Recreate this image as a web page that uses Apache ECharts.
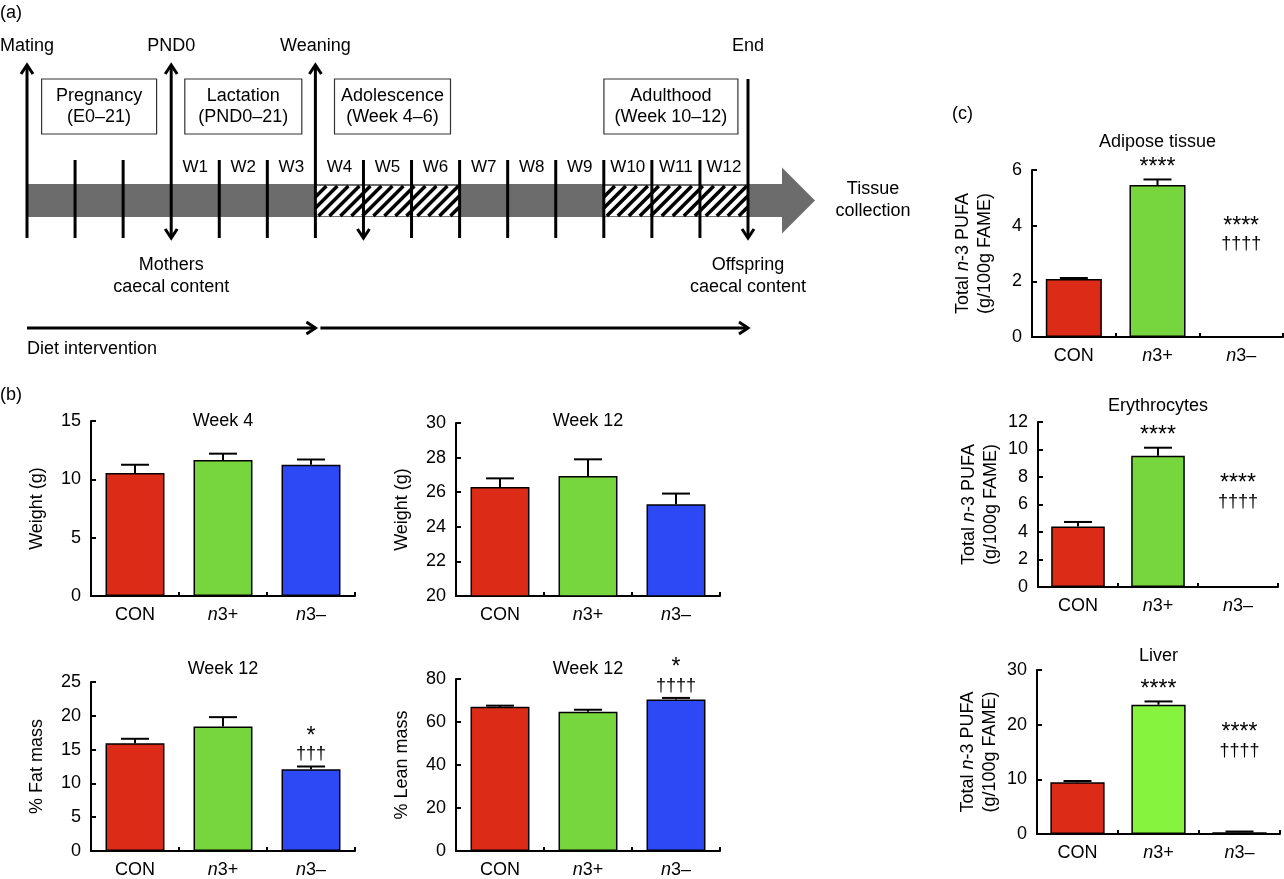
<!DOCTYPE html>
<html>
<head>
<meta charset="utf-8">
<script src="https://cdn.jsdelivr.net/npm/echarts@6/dist/echarts.min.js"></script>
<style>
  html, body { margin: 0; padding: 0; background: #fff; }
  #chart { width: 1284px; height: 879px; }
</style>
</head>
<body>
<div id="chart"></div>
<script>
const FONT = '"Liberation Sans", Arial, Helvetica, sans-serif';
const font = (size, style) => (style ? style + ' ' : '') + size + 'px ' + FONT;

// (a) study timeline, in weeks from birth (PND0 = week 0)
const timelineSpan = [-3, 12];
const eventWeeks = [-3, 0, 3, 12];
const eventLabels = ['Mating', 'PND0', 'Weaning', 'End'];
const eventArrows = ['up', 'both', 'up', 'down'];
const tickWeeks = [-2, -1, 1, 2, 5, 6, 7, 8, 9, 10, 11];
const arrowTickWeeks = [4];
const weekLabels = ['W1', 'W2', 'W3', 'W4', 'W5', 'W6', 'W7', 'W8', 'W9', 'W10', 'W11', 'W12'];
const stageNames = ['Pregnancy\n(E0–21)', 'Lactation\n(PND0–21)', 'Adolescence\n(Week 4–6)', 'Adulthood\n(Week 10–12)'];
const stageSpans = [[-3, 0], [0, 3], [3, 6], [9, 12]];
const hatchSpans = [[3, 6], [9, 12]];
const sampleWeeks = [0, 12];
const sampleLabels = ['Mothers\ncaecal content', 'Offspring\ncaecal content'];
const dietSpans = [[-3, 3], [3, 12]];

// (b) body weight / composition, mean and SEM
const groups = ['CON', 'n3+', 'n3–'];
const wk4Weight = [10.55, 11.65, 11.25];
const wk4WeightSem = [0.7, 0.55, 0.45];
const wk12Weight = [26.3, 26.93, 25.3];
const wk12WeightSem = [0.5, 0.97, 0.62];
const fatMass = [15.95, 18.4, 12.1];
const fatMassSem = [0.65, 1.4, 0.4];
const fatMarks = ['', '', '*\n†††'];
const leanMass = [67.1, 64.8, 70.5];
const leanMassSem = [0.5, 0.9, 0.7];
const leanMarks = ['', '', '*\n††††'];

// (c) total n-3 PUFA (g/100 g FAME)
const adipose = [2.08, 5.46, 0];
const adiposeSem = [0.04, 0.2, 0];
const erythro = [4.4, 9.55, 0];
const erythroSem = [0.33, 0.58, 0];
const liver = [9.45, 23.65, 0.3];
const liverSem = [0.25, 0.6, 0.15];
const pufaMarks = ['', '****', '****\n††††'];
const adiposeMarkFloor = [0, 0, 2.9];
const erythroMarkFloor = [0, 0, 5.3];
const liverMarkFloor = [0, 0, 13];

const barColors = ['#dc2c17', '#77d53e', '#2d49f5'];
const liverColors = ['#dc2c17', '#86f33f', '#2d49f5'];

// timeline vertical layout (px)
const TL = {
  labelY: 46, boxTop: 79, boxH: 55, weekY: 167, barTop: 184, barH: 33,
  hatchTop: 186, hatchH: 30, tickTop: 160, lineBottom: 238, arrowTop: 65,
  endTop: 79, sampleY: 254, dietY: 328, dietTextY: 349
};
const stageBoxWidths = [115, 117, 116, 134];
const stageBoxShift = [0, 0, 5, -5];

const black = '#000';
const ln = (x1, y1, x2, y2, w) => ({ type: 'line', shape: { x1, y1, x2, y2 }, style: { stroke: black, lineWidth: w || 3 } });
const chevUp = (x, y) => ({ type: 'polyline', shape: { points: [[x - 6, y + 9], [x, y], [x + 6, y + 9]] }, style: { stroke: black, fill: null, lineWidth: 3 } });
const chevDown = (x, y) => ({ type: 'polyline', shape: { points: [[x - 6, y - 9], [x, y], [x + 6, y - 9]] }, style: { stroke: black, fill: null, lineWidth: 3 } });
const chevRight = (x, y) => ({ type: 'polyline', shape: { points: [[x - 9, y - 6], [x, y], [x - 9, y + 6]] }, style: { stroke: black, fill: null, lineWidth: 3 } });
const txt = (text, x, y, size, align, extra) => ({
  type: 'text',
  style: Object.assign({ text, x, y, font: font(size), fill: black, align: align || 'center', verticalAlign: 'middle' }, extra || {})
});

function xOf(api, w) { return api.coord([w, 0])[0]; }

const timelineSeries = [
  { // grey shaft and arrow head
    data: [timelineSpan],
    renderItem: (p, api) => {
      const xs = xOf(api, api.value(0)), xe = xOf(api, api.value(1));
      const mid = TL.barTop + TL.barH / 2;
      return { type: 'group', children: [
        { type: 'rect', shape: { x: xs, y: TL.barTop, width: xe + 34 - xs, height: TL.barH }, style: { fill: '#6c6c6c' } },
        { type: 'polygon', shape: { points: [[xe + 34, mid - 33], [xe + 67, mid], [xe + 34, mid + 33]] }, style: { fill: '#6c6c6c' } },
        txt('Tissue\ncollection', xe + 125, mid, 18, 'center', { lineHeight: 22 })
      ] };
    }
  },
  { // hatched adolescence / adulthood windows
    data: hatchSpans,
    renderItem: (p, api) => {
      const x0 = xOf(api, api.value(0)), x1 = xOf(api, api.value(1));
      const y0 = TL.hatchTop, y1 = TL.hatchTop + TL.hatchH;
      const children = [{ type: 'rect', shape: { x: x0, y: y0, width: x1 - x0, height: y1 - y0 }, style: { fill: '#fff' } }];
      for (let c = x0 + y0; c <= x1 + y1; c += 11) {
        const xa = Math.max(x0, c - y1), xb = Math.min(x1, c - y0);
        if (xb > xa) children.push(ln(xa, c - xa, xb, c - xb, 3.5));
      }
      return { type: 'group', children };
    }
  },
  { // plain week ticks
    data: tickWeeks.map(w => [w]),
    renderItem: (p, api) => {
      const x = xOf(api, api.value(0));
      return ln(x, TL.tickTop, x, TL.lineBottom);
    }
  },
  { // tick with sampling arrow
    data: arrowTickWeeks.map(w => [w]),
    renderItem: (p, api) => {
      const x = xOf(api, api.value(0));
      return { type: 'group', children: [ln(x, TL.tickTop, x, TL.lineBottom), chevDown(x, TL.lineBottom)] };
    }
  },
  { // main events
    data: eventWeeks.map(w => [w]),
    renderItem: (p, api) => {
      const i = p.dataIndex;
      const x = xOf(api, api.value(0));
      const kind = eventArrows[i];
      const top = kind === 'down' ? TL.endTop : TL.arrowTop;
      const children = [ln(x, top, x, TL.lineBottom), txt(eventLabels[i], x, TL.labelY, 18)];
      if (kind === 'up' || kind === 'both') children.push(chevUp(x, top));
      if (kind === 'down' || kind === 'both') children.push(chevDown(x, TL.lineBottom));
      return { type: 'group', children };
    }
  },
  { // W1..W12
    data: weekLabels.map((w, i) => [i + 0.5]),
    renderItem: (p, api) => txt(weekLabels[p.dataIndex], xOf(api, api.value(0)), TL.weekY, 17)
  },
  { // stage boxes
    data: stageSpans,
    renderItem: (p, api) => {
      const i = p.dataIndex;
      const cx = (xOf(api, api.value(0)) + xOf(api, api.value(1))) / 2 + stageBoxShift[i];
      const w = stageBoxWidths[i];
      return { type: 'group', children: [
        { type: 'rect', shape: { x: cx - w / 2, y: TL.boxTop, width: w, height: TL.boxH }, style: { fill: '#fff', stroke: '#333', lineWidth: 1.2 } },
        txt(stageNames[i], cx, TL.boxTop + TL.boxH / 2, 18, 'center', { lineHeight: 21 })
      ] };
    }
  },
  { // caecal content sampling
    data: sampleWeeks.map(w => [w]),
    renderItem: (p, api) => txt(sampleLabels[p.dataIndex], xOf(api, api.value(0)), TL.sampleY, 18, 'center', { verticalAlign: 'top', lineHeight: 22 })
  },
  { // diet intervention arrows
    data: dietSpans,
    renderItem: (p, api) => {
      const i = p.dataIndex;
      const xs = xOf(api, api.value(0)) + (i > 0 ? 5 : 0), xe = xOf(api, api.value(1));
      const children = [ln(xs, TL.dietY, xe, TL.dietY), chevRight(xe, TL.dietY)];
      if (i === 0) children.push(txt('Diet intervention', xs, TL.dietTextY, 18, 'left'));
      return { type: 'group', children };
    }
  }
].map(s => Object.assign({ type: 'custom', coordinateSystem: 'cartesian2d', xAxisIndex: 0, yAxisIndex: 0, clip: false, silent: true, animation: false }, s));

const pufaName = '{a|Total }{i|n}{a|-3 PUFA}\n{a|(g/100g FAME)}';

const panels = [
  { grid: { left: 91, top: 421, width: 264, height: 175 }, values: wk4Weight, sem: wk4WeightSem, min: 0, max: 15, interval: 5,
    name: '{a|Weight (g)}', nameGap: 43, title: 'Week 4', titleY: 421, colors: barColors },
  { grid: { left: 456, top: 423, width: 264, height: 173 }, values: wk12Weight, sem: wk12WeightSem, min: 20, max: 30, interval: 2,
    name: '{a|Weight (g)}', nameGap: 43, title: 'Week 12', titleY: 421, colors: barColors },
  { grid: { left: 91, top: 682, width: 264, height: 169 }, values: fatMass, sem: fatMassSem, marks: fatMarks, min: 0, max: 25, interval: 5,
    name: '{a|% Fat mass}', nameGap: 43, title: 'Week 12', titleY: 669, colors: barColors },
  { grid: { left: 456, top: 679, width: 264, height: 172 }, values: leanMass, sem: leanMassSem, marks: leanMarks, min: 0, max: 80, interval: 20,
    name: '{a|% Lean mass}', nameGap: 43, title: 'Week 12', titleY: 669, colors: barColors },
  { grid: { left: 1032, top: 170, width: 251, height: 167 }, values: adipose, sem: adiposeSem, marks: pufaMarks, floors: adiposeMarkFloor,
    min: 0, max: 6, interval: 2, name: pufaName, nameGap: 36, title: 'Adipose tissue', titleY: 142, colors: barColors },
  { grid: { left: 1038, top: 422, width: 240, height: 165 }, values: erythro, sem: erythroSem, marks: pufaMarks, floors: erythroMarkFloor,
    min: 0, max: 12, interval: 2, name: pufaName, nameGap: 36, title: 'Erythrocytes', titleY: 406, colors: barColors },
  { grid: { left: 1037, top: 670, width: 243, height: 164 }, values: liver, sem: liverSem, marks: pufaMarks, floors: liverMarkFloor,
    min: 0, max: 30, interval: 10, name: pufaName, nameGap: 36, title: 'Liver', titleY: 656, colors: liverColors }
];

const richText = {
  a: { fontFamily: FONT, fontSize: 18, color: black },
  i: { fontFamily: FONT, fontSize: 18, fontStyle: 'italic', color: black }
};
const markRich = {
  s: { fontFamily: FONT, fontSize: 23, lineHeight: 18, color: black },
  d: { fontFamily: FONT, fontSize: 18, lineHeight: 18, color: black }
};
const axisLineStyle = { color: black, width: 2 };

function errorRenderer(pn) {
  return function (p, api) {
    const i = p.dataIndex;
    const x = api.value(0), m = api.value(1);
    const s = pn.sem[i];
    const base = api.coord([x, m]);
    const top = api.coord([x, m + s]);
    const children = [];
    if (s > 0) {
      children.push(ln(base[0], base[1], top[0], top[1], 2));
      children.push(ln(top[0] - 14, top[1], top[0] + 14, top[1], 2));
    }
    const mark = pn.marks ? pn.marks[i] : '';
    if (mark) {
      const anchor = Math.max(m + s, pn.floors ? pn.floors[i] : 0);
      const a = api.coord([x, anchor]);
      const rich = mark.split('\n').map(l => (l.charAt(0) === '*' ? '{s|' : '{d|') + l + '}').join('\n');
      children.push(txt(rich, a[0], a[1] - 3, 18, 'center', { verticalAlign: 'bottom', lineHeight: 18, rich: markRich }));
    }
    return { type: 'group', children };
  };
}

const grids = [{ left: 27, width: 721, top: 0, height: 400, outerBoundsMode: 'none' }];
const xAxes = [{ gridIndex: 0, type: 'value', min: timelineSpan[0], max: timelineSpan[1], show: false }];
const yAxes = [{ gridIndex: 0, type: 'value', min: 0, max: 1, show: false }];
const series = timelineSeries.slice();
const graphics = [
  txt('(a)', 0, 13, 18, 'left'),
  txt('(b)', 0, 395, 18, 'left'),
  txt('(c)', 952, 114, 18, 'left')
];

panels.forEach((pn, k) => {
  const gi = k + 1;
  grids.push(Object.assign({ outerBoundsMode: 'none' }, pn.grid));
  xAxes.push({
    gridIndex: gi, type: 'category', data: groups,
    axisLine: { show: true, lineStyle: axisLineStyle },
    axisTick: { show: true, inside: true, length: 4, alignWithLabel: false, lineStyle: axisLineStyle },
    axisLabel: {
      margin: 10, color: black, fontSize: 18, fontFamily: FONT, interval: 0,
      formatter: v => v.charAt(0) === 'n' ? '{i|n}{a|' + v.slice(1) + '}' : '{a|' + v + '}',
      rich: richText
    },
    splitLine: { show: false }
  });
  yAxes.push({
    gridIndex: gi, type: 'value', min: pn.min, max: pn.max, interval: pn.interval,
    name: pn.name, nameLocation: 'middle', nameGap: pn.nameGap,
    nameTextStyle: { rich: richText, lineHeight: 22 },
    axisLine: { show: true, lineStyle: axisLineStyle },
    axisTick: { show: true, inside: true, length: 5, lineStyle: axisLineStyle },
    axisLabel: { margin: 10, color: black, fontSize: 18, fontFamily: FONT },
    splitLine: { show: false }
  });
  series.push({
    type: 'bar', xAxisIndex: gi, yAxisIndex: gi, barWidth: '67%', animation: false, silent: true,
    data: pn.values.map((v, i) => ({ value: v, itemStyle: { color: pn.colors[i] } })),
    itemStyle: { borderColor: black, borderWidth: 1.5 }
  });
  series.push({
    type: 'custom', coordinateSystem: 'cartesian2d', xAxisIndex: gi, yAxisIndex: gi, clip: false,
    animation: false, silent: true, z: 5,
    data: pn.values.map((v, i) => [i, v]),
    renderItem: errorRenderer(pn)
  });
  graphics.push(txt(pn.title, pn.grid.left + pn.grid.width / 2, pn.titleY, 18));
});

const chart = echarts.init(document.getElementById('chart'), null, { renderer: 'canvas' });
chart.setOption({
  animation: false,
  backgroundColor: '#fff',
  textStyle: { fontFamily: FONT },
  grid: grids,
  xAxis: xAxes,
  yAxis: yAxes,
  series: series,
  graphic: graphics
});
</script>
</body>
</html>
